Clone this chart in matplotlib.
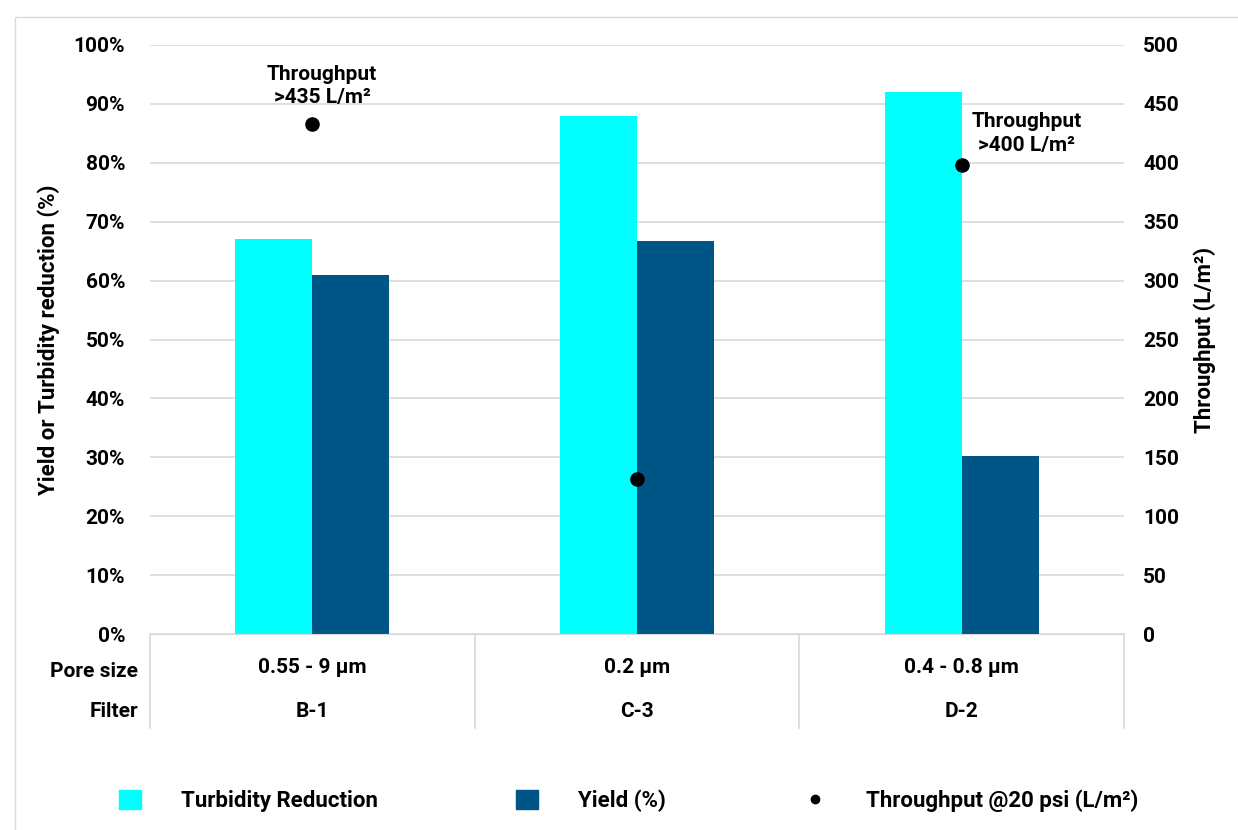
import matplotlib
matplotlib.use("Agg")
import matplotlib.pyplot as plt
import numpy as np
from matplotlib.lines import Line2D
from matplotlib.patches import Patch, Rectangle

plt.rcParams['font.family'] = ['Roboto', 'DejaVu Sans']
plt.rcParams['font.weight'] = 'bold'
plt.rcParams['axes.labelweight'] = 'bold'

# data
filters = ['B-1', 'C-3', 'D-2']
pore_sizes = ['0.55 - 9 \u00b5m', '0.2 \u00b5m', '0.4 - 0.8 \u00b5m']
turbidity = [0.67, 0.88, 0.92]
yield_pct = [0.61, 0.667, 0.303]
throughput = [433, 132, 398]
notes = ['Throughput\n>435 L/m\u00b2', 'Throughput\n>400 L/m\u00b2']

cyan = '#00FFFF'
navy = '#005587'
grid = '#d9d9d9'

fig = plt.figure(figsize=(12.38, 8.30), dpi=100)
fig.add_artist(Rectangle((0.012, -0.01), 1.0, 0.99, transform=fig.transFigure,
                         fill=False, edgecolor=grid, lw=1))
ax = fig.add_axes([0.1212, 0.2361, 0.7867, 0.7097])
ax2 = ax.twinx()

x = np.arange(len(filters))
w = 0.237
ax.bar(x - w / 2, turbidity, w, color=cyan, zorder=2)
ax.bar(x + w / 2, yield_pct, w, color=navy, zorder=2)
ax2.scatter(x, throughput, s=90, color='black', zorder=3)

ax.set_xlim(-0.5, 2.5)
ax.set_ylim(0, 1.0)
ax2.set_ylim(0, 500)
ax.set_yticks(np.arange(0, 1.01, 0.1))
ax.set_yticklabels([f'{int(round(v * 100))}%' for v in np.arange(0, 1.01, 0.1)])
ax2.set_yticks(np.arange(0, 501, 50))
ax.yaxis.grid(True, color=grid, lw=1.2, zorder=0)
ax.set_axisbelow(True)
ax.set_xticks([])
for a in (ax, ax2):
    for s in ('top', 'left', 'right'):
        a.spines[s].set_visible(False)
    a.spines['bottom'].set_color(grid)
    a.tick_params(axis='y', length=0, labelsize=15)
ax.tick_params(axis='y', pad=18)
ax2.tick_params(axis='y', pad=14)
ax2.spines['bottom'].set_visible(False)

ax.set_ylabel('Yield or Turbidity reduction (%)', fontsize=16, labelpad=10)
ax2.set_ylabel('Throughput (L/m\u00b2)', fontsize=16, labelpad=10)

# table under the axis
tr = ax.get_xaxis_transform()
for xv in (-0.5, 0.5, 1.5, 2.5):
    ax.plot([xv, xv], [0, -0.16], transform=tr, color=grid, lw=1.2, clip_on=False)
for i in range(len(filters)):
    ax.text(x[i], -0.056, pore_sizes[i], transform=tr, ha='center', va='center', fontsize=15)
    ax.text(x[i], -0.132, filters[i], transform=tr, ha='center', va='center', fontsize=15)
ax.text(-0.012, -0.064, 'Pore size', transform=ax.transAxes, ha='right', va='center', fontsize=15)
ax.text(-0.012, -0.132, 'Filter', transform=ax.transAxes, ha='right', va='center', fontsize=15)

# annotations
ax2.text(0.03, 465, notes[0], ha='center', va='center', fontsize=15, linespacing=1.3)
ax2.text(2.2, 425, notes[1], ha='center', va='center', fontsize=15, linespacing=1.3)

handles = [Patch(color=cyan), Patch(color=navy),
           Line2D([], [], marker='o', color='black', ls='none', markersize=6)]
labels = ['Turbidity Reduction', 'Yield (%)', 'Throughput @20 psi (L/m\u00b2)']
fig.legend(handles, labels, loc='center', bbox_to_anchor=(0.508, 0.035), ncol=3, frameon=False,
           fontsize=16, handlelength=1.0, handleheight=0.9, handletextpad=1.8, columnspacing=6.2)

fig.savefig('out.png', dpi=100)
